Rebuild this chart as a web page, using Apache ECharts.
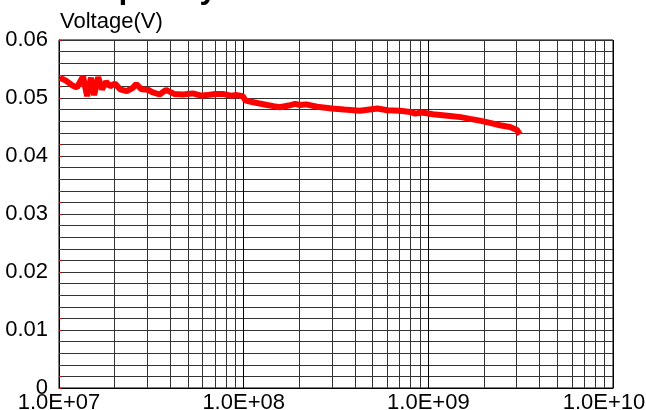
<!DOCTYPE html>
<html>
<head>
<meta charset="utf-8">
<script src="https://cdn.jsdelivr.net/npm/echarts@6/dist/echarts.min.js"></script>
<style>
html,body{margin:0;padding:0;background:#fff;}
#chart{width:646px;height:410px;}
</style>
</head>
<body>
<div id="chart"></div>
<script>
var frequency = [
  1.01e7,1.09e7,1.19e7,1.25e7,1.35e7,1.42e7,1.49e7,1.55e7,1.63e7,1.71e7,
  1.80e7,1.89e7,2.01e7,2.14e7,2.33e7,2.50e7,2.62e7,2.80e7,
  3.05e7,3.20e7,3.50e7,3.80e7,4.20e7,4.70e7,5.30e7,5.90e7,6.30e7,7.00e7,
  7.70e7,8.50e7,9.20e7,9.90e7,1.02e8,1.08e8,1.20e8,1.34e8,1.45e8,1.57e8,
  1.75e8,1.90e8,2.02e8,2.18e8,2.50e8,3.00e8,3.50e8,4.26e8,5.30e8,6.00e8,
  7.00e8,8.00e8,8.50e8,9.20e8,1.06e9,1.31e9,1.50e9,1.68e9,1.90e9,2.16e9,
  2.44e9,2.77e9,3.02e9,3.13e9
];
var voltage = [
  0.0535,0.0530,0.0521,0.0518,0.0537,0.0503,0.0535,0.0505,0.0536,0.0515,
  0.0528,0.0520,0.0525,0.0515,0.0512,0.0517,0.0524,0.0515,
  0.0514,0.0510,0.0506,0.0514,0.0507,0.0506,0.0508,0.0504,0.0505,0.0507,
  0.0507,0.0504,0.0505,0.0503,0.0496,0.0494,0.0491,0.0488,0.0486,0.0484,
  0.0487,0.0490,0.0488,0.0489,0.0485,0.0482,0.0480,0.0478,0.0482,0.0479,
  0.0478,0.0476,0.0473,0.0475,0.0472,0.0469,0.0467,0.0464,0.0461,0.0457,
  0.0453,0.0450,0.0445,0.0437
];
var xMinorGrid = [
  2e7,3e7,4e7,5e7,6e7,7e7,8e7,9e7,
  2e8,3e8,4e8,5e8,6e8,7e8,8e8,9e8,
  2e9,3e9,4e9,5e9,6e9,7e9,8e9,9e9
];
var yAxisName = 'Voltage(V)';
var titleText = 'Frequency';

var chart = echarts.init(document.getElementById('chart'));
var gridColor = '#333';
var labelFont = '"Liberation Sans", Arial';
chart.setOption({
  animation: false,
  backgroundColor: '#fff',
  graphic: [{
    type: 'text',
    left: 60,
    top: -26,
    style: { text: titleText, font: 'bold 31px "Liberation Sans", Arial', fill: '#000' }
  }],
  grid: { left: 59, right: 33, top: 40, bottom: 22, show: true, borderColor: '#000', borderWidth: 1, outerBoundsMode: 'none', containLabel: false },
  xAxis: {
    type: 'log', logBase: 10, min: 1e7, max: 1e10,
    axisLine: { show: true, lineStyle: { color: '#000' } },
    axisTick: { show: false },
    splitLine: { show: true, lineStyle: { color: '#000', width: 1 } },
    axisLabel: {
      fontFamily: labelFont, fontSize: 22, color: '#000', margin: 4,
      hideOverlap: false,
      formatter: function (v) {
        var e = Math.round(Math.log10(v));
        var s = '1.0E+' + (e < 10 ? '0' + e : '' + e);
        return e >= 10 ? '{last|' + s + '}' : s;
      },
      rich: {
        last: { fontFamily: labelFont, fontSize: 22, color: '#000', padding: [0, 18, 0, 0] }
      }
    }
  },
  yAxis: {
    type: 'value', min: 0, max: 0.06, interval: 0.01,
    name: yAxisName, nameLocation: 'end', nameGap: 7,
    nameTextStyle: { fontFamily: labelFont, fontSize: 22, color: '#000', align: 'left', padding: [0, 0, 0, 1] },
    axisLine: { show: true, lineStyle: { color: '#000' } },
    axisTick: { show: true, inside: true, length: 2, lineStyle: { color: '#f00' } },
    minorTick: { show: true, splitNumber: 5, length: 2, lineStyle: { color: '#f00' } },
    splitLine: { show: true, lineStyle: { color: gridColor, width: 1 } },
    minorSplitLine: { show: true, lineStyle: { color: gridColor, width: 1 } },
    axisLabel: {
      fontFamily: labelFont, fontSize: 22, color: '#000', margin: 11,
      formatter: function (v) { return v === 0 ? '0' : v.toFixed(2); }
    }
  },
  series: [{
    type: 'line',
    data: frequency.map(function (f, i) { return [f, voltage[i]]; }),
    showSymbol: false,
    lineStyle: { color: '#ff0000', width: 6 },
    z: 5,
    markLine: {
      silent: true, symbol: 'none', animation: false,
      label: { show: false },
      lineStyle: { color: gridColor, width: 1, type: 'solid' },
      data: xMinorGrid.map(function (f) { return { xAxis: f }; }),
      z: 1
    }
  }]
});
</script>
</body>
</html>
